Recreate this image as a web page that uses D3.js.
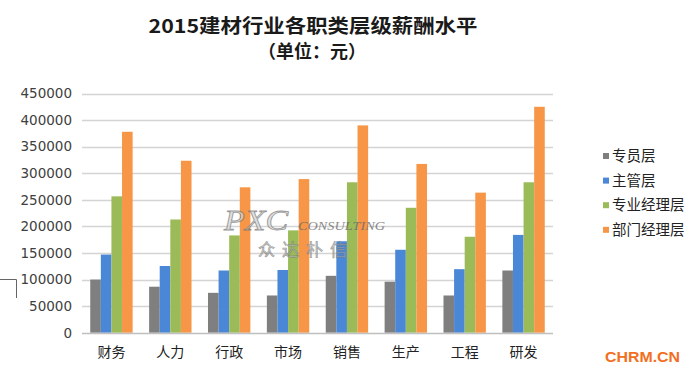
<!DOCTYPE html>
<html><head><meta charset="utf-8">
<script src="https://cdn.jsdelivr.net/npm/d3@7"></script>
<style>
body{margin:0;background:#fff;}
svg{display:block;}
</style></head>
<body>
<svg id="chart" width="691" height="374"></svg>
<script>
const categories = ["财务","人力","行政","市场","销售","生产","工程","研发"];
const seriesNames = ["专员层","主管层","专业经理层","部门经理层"];
const s1 = [100000, 86500, 75000, 70000, 107000, 96000, 70000, 117000];
const s2 = [147000, 125500, 117000, 118000, 172000, 156000, 119500, 184000];
const s3 = [256500, 213000, 183000, 192500, 283000, 235000, 180500, 283000];
const s4 = [378000, 323500, 273500, 289000, 390000, 317500, 263500, 425000];
const yTicks = [0,50000,100000,150000,200000,250000,300000,350000,400000,450000];
const colors = ["#7f7f7f","#4a87d6","#9bbb59","#f79646"];
const series = [s1,s2,s3,s4];

const svg = d3.select("#chart");
const plotLeft = 82, plotRight = 553, plotTop = 93.5, plotBottom = 332.7;

const x = d3.scaleBand().domain(categories).range([plotLeft,plotRight]).paddingInner(0.28).paddingOuter(0.14);
const xs = d3.scaleBand().domain(d3.range(4)).range([0,x.bandwidth()]);
const y = d3.scaleLinear().domain([0,450000]).range([plotBottom,plotTop]);

// title
svg.append("text").attr("x",313).attr("y",33).attr("text-anchor","middle")
  .attr("font-family","'Noto Sans CJK SC','Noto Sans',sans-serif").attr("font-weight","bold")
  .attr("font-size",19).attr("fill","#1a1a1a").attr("textLength",329).attr("lengthAdjust","spacingAndGlyphs")
  .text("2015建材行业各职类层级薪酬水平");
svg.append("text").attr("x",312).attr("y",58).attr("text-anchor","middle")
  .attr("font-family","'Noto Sans CJK SC',sans-serif").attr("font-weight","bold")
  .attr("font-size",18).attr("fill","#1a1a1a")
  .text("（单位：元）");

// gridlines
svg.append("g").selectAll("line").data(yTicks.slice(1)).join("line")
  .attr("x1",plotLeft).attr("x2",plotRight).attr("y1",d=>Math.round(y(d))+0.5).attr("y2",d=>Math.round(y(d))+0.5)
  .attr("stroke","#d4d4d4").attr("stroke-width",1.3);

// y axis labels
const yAxis = d3.axisLeft(y).tickValues(yTicks).tickSize(0).tickPadding(10).tickFormat(d3.format("d"));
const gy = svg.append("g").attr("transform",`translate(${plotLeft},0)`).call(yAxis);
gy.select(".domain").remove();
gy.selectAll("text").attr("font-family","'DejaVu Sans',sans-serif").attr("font-size",13.5).attr("fill","#404040");

// bars
const g = svg.append("g");
series.forEach((vals,si)=>{
  g.selectAll(".b"+si).data(vals).join("rect").attr("class","b"+si)
    .attr("x",(d,i)=>x(categories[i])+xs(si))
    .attr("width",xs.bandwidth())
    .attr("y",d=>y(d)).attr("height",d=>y(0)-y(d))
    .attr("fill",colors[si]);
});

// x axis
svg.append("line").attr("x1",plotLeft).attr("x2",plotRight).attr("y1",Math.round(plotBottom)+0.5).attr("y2",Math.round(plotBottom)+0.5)
  .attr("stroke","#bfbfbf").attr("stroke-width",1.3);
const xAxis = d3.axisBottom(x).tickSize(0).tickPadding(14);
const gx = svg.append("g").attr("transform",`translate(0,${plotBottom})`).call(xAxis);
gx.select(".domain").remove();
gx.selectAll("text").attr("font-family","'Noto Sans CJK SC',sans-serif").attr("font-size",14).attr("fill","#222");

// legend
const lg = svg.append("g");
seriesNames.forEach((n,i)=>{
  const yy = 156 + i*24.6;
  lg.append("rect").attr("x",603).attr("y",yy-3).attr("width",6).attr("height",6).attr("fill",colors[i]);
  lg.append("text").attr("x",612).attr("y",yy+5).attr("font-family","'Noto Sans CJK SC',sans-serif")
    .attr("font-size",14.5).attr("fill","#222").text(n);
});

// watermark
const wm = svg.append("g").attr("opacity",0.75);
wm.append("text").attr("x",224).attr("y",230).attr("font-family","'Liberation Serif',serif").attr("font-style","italic")
  .attr("font-size",29).attr("fill","#d8d8d8").attr("stroke","#777").attr("stroke-width",0.8)
  .attr("textLength",64).attr("lengthAdjust","spacingAndGlyphs").text("PXC");
wm.append("text").attr("x",298).attr("y",230).attr("font-family","'Liberation Serif',serif").attr("font-style","italic")
  .attr("font-size",12).attr("fill","#666").attr("textLength",87).attr("lengthAdjust","spacingAndGlyphs").text("CONSULTING");
wm.append("text").attr("x",258).attr("y",256).attr("font-family","'Noto Sans CJK SC',sans-serif")
  .attr("font-size",17).attr("fill","#bbb").attr("stroke","#777").attr("stroke-width",0.6)
  .attr("textLength",89).attr("lengthAdjust","spacing").text("众达朴信");

// left bracket
svg.append("path").attr("d","M0,279.5H16.5V298").attr("fill","none").attr("stroke","#666").attr("stroke-width",1);

// CHRM.CN
svg.append("text").attr("x",605).attr("y",361.5).attr("font-family","'Liberation Sans',Arial,sans-serif")
  .attr("font-weight","bold").attr("font-size",15.5).attr("fill","#f26f21")
  .attr("textLength",75).attr("lengthAdjust","spacingAndGlyphs").text("CHRM.CN");
</script>
</body></html>
